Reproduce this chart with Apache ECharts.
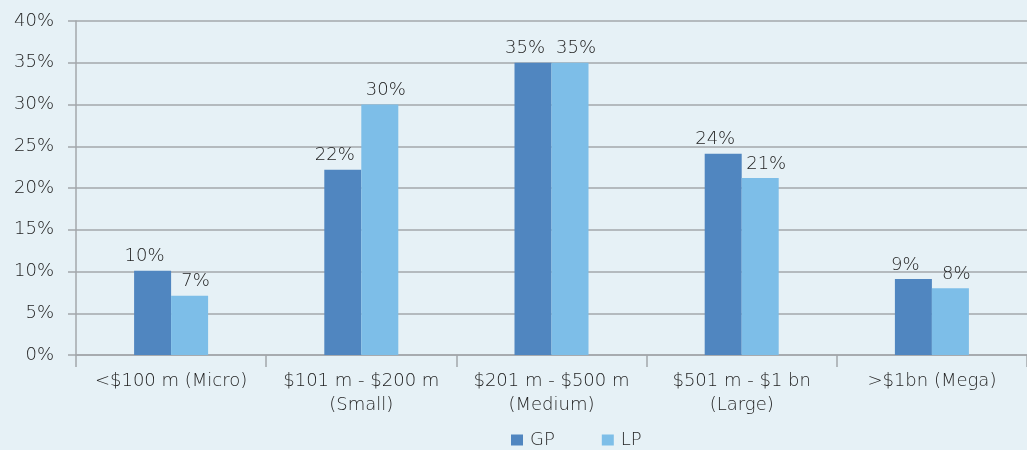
<!DOCTYPE html>
<html>
<head>
<meta charset="utf-8">
<script src="https://cdn.jsdelivr.net/npm/echarts@6/dist/echarts.min.js"></script>
<style>
  html, body { margin: 0; padding: 0; background: #e6f1f6; }
  #chart { width: 1027px; height: 450px; }
</style>
</head>
<body>
<div id="chart"></div>
<script>
// Fund size buckets and the share of GP / LP responses in each
const categories = [
  '<$100 m (Micro)',
  '$101 m - $200 m\n(Small)',
  '$201 m - $500 m\n(Medium)',
  '$501 m - $1 bn\n(Large)',
  '>$1bn (Mega)'
];
const gpValues = [10.1, 22.2, 35.0, 24.1, 9.1];
const lpValues = [7.1, 30.0, 35.0, 21.2, 8.0];
const yTicks = { min: 0, max: 40, interval: 5 };

const FONT = '"DejaVu Sans", "Liberation Sans", sans-serif';
const WEIGHT = 200;
const TEXT = '#1f1f1f';
const GRID = '#a3a7ab';

const chart = echarts.init(document.getElementById('chart'), null, { renderer: 'canvas' });

// Value labels sit over each bar, nudged apart so neighbouring labels don't collide
function pctLabel(dx) {
  return {
    show: true,
    position: 'top',
    distance: 5,
    offset: [dx, 0],
    fontFamily: FONT,
    fontWeight: WEIGHT,
    fontSize: 18,
    color: TEXT,
    formatter: p => Math.round(p.value) + '%'
  };
}

chart.setOption({
  backgroundColor: '#e6f1f6',
  animation: false,
  grid: { left: 76, right: 0, top: 21, bottom: 95 },
  legend: {
    left: 511,
    top: 431,
    padding: 0,
    itemWidth: 12,
    itemHeight: 11,
    itemGap: 47,
    icon: 'rect',
    textStyle: { fontFamily: FONT, fontWeight: WEIGHT, fontSize: 18, color: TEXT, padding: [0, 0, 0, 2] },
    data: ['GP', 'LP']
  },
  xAxis: {
    type: 'category',
    data: categories,
    axisLine: { lineStyle: { color: GRID, width: 1.5 } },
    axisTick: { show: true, length: 12, alignWithLabel: false, lineStyle: { color: GRID, width: 1.5 } },
    axisLabel: {
      fontFamily: FONT,
      fontWeight: WEIGHT,
      fontSize: 18,
      color: TEXT,
      lineHeight: 24,
      margin: 14,
      interval: 0
    }
  },
  yAxis: {
    type: 'value',
    min: yTicks.min,
    max: yTicks.max,
    interval: yTicks.interval,
    axisLine: { show: true, lineStyle: { color: GRID, width: 1.5 } },
    axisTick: { show: true, length: 8, lineStyle: { color: GRID, width: 1.5 } },
    splitLine: { lineStyle: { color: GRID, width: 1.5 } },
    axisLabel: {
      fontFamily: FONT,
      fontWeight: WEIGHT,
      fontSize: 18,
      color: TEXT,
      margin: 22,
      formatter: v => v + '%'
    }
  },
  series: [
    {
      name: 'GP',
      type: 'bar',
      data: gpValues,
      barWidth: 37,
      barGap: '0%',
      itemStyle: { color: '#5086c0' },
      label: pctLabel(-8)
    },
    {
      name: 'LP',
      type: 'bar',
      data: lpValues,
      barWidth: 37,
      barGap: '0%',
      itemStyle: { color: '#7dbee8' },
      label: pctLabel(6)
    }
  ]
});
</script>
</body>
</html>
